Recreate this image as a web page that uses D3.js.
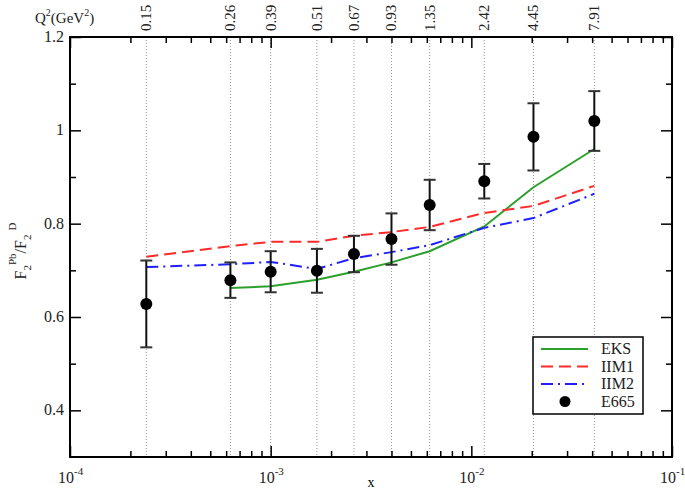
<!DOCTYPE html>
<html>
<head>
<meta charset="utf-8">
<script src="https://cdn.jsdelivr.net/npm/d3@7"></script>
<style>
  body { margin: 0; background: #fff; }
  .axis path, .axis line { stroke: #000; }
  .axis text { display: none; }
</style>
</head>
<body>
<svg width="685" height="492" font-family="'Liberation Serif', 'Times New Roman', Times, serif"></svg>
<script>
// measured x positions, Q^2 labels and F2(Pb)/F2(D) values
var xVals = [0.00024, 0.00063, 0.001, 0.0017, 0.0026, 0.004, 0.0062, 0.0116, 0.0204, 0.041];
var q2Labels = ['0.15', '0.26', '0.39', '0.51', '0.67', '0.93', '1.35', '2.42', '4.45', '7.91'];

var e665 = [0.628, 0.679, 0.697, 0.699, 0.735, 0.767, 0.840, 0.891, 0.986, 1.020];
var e665Err = [0.093, 0.038, 0.044, 0.047, 0.039, 0.055, 0.054, 0.037, 0.072, 0.064];

var eks = [null, 0.662, 0.666, 0.680, 0.697, 0.717, 0.741, 0.794, 0.878, 0.960];
var iim1 = [0.729, 0.752, 0.761, 0.761, 0.774, 0.782, 0.793, 0.823, 0.838, 0.881];
var iim2 = [0.707, 0.713, 0.718, 0.703, 0.726, 0.739, 0.754, 0.791, 0.812, 0.864];

var yTicks = [0.4, 0.6, 0.8, 1, 1.2];
var yMinor = [0.5, 0.7, 0.9, 1.1];
var xDecades = [1e-4, 1e-3, 1e-2, 1e-1];

var svg = d3.select('svg');

var x = d3.scaleLog()
    .domain([1e-4, 1e-1])
    .range([70, 672]);

var y = d3.scaleLinear()
    .domain([0.3, 1.2])
    .range([457, 37]);

var xMinor = [];
xDecades.slice(0, 3).forEach(function(d){
    for (var k = 2; k <= 9; k++) xMinor.push(d * k);
});

// vertical dotted guides
svg.append('g')
    .selectAll('line')
    .data(xVals)
    .enter()
    .append('line')
    .attr('x1', function(d){ return x(d); })
    .attr('x2', function(d){ return x(d); })
    .attr('y1', y(1.2))
    .attr('y2', y(0.3))
    .attr('stroke', '#999')
    .attr('stroke-width', 1)
    .attr('stroke-dasharray', '1,2');

// axes with inward ticks
function addAxis(axis, tx, ty, size) {
    svg.append('g')
        .attr('class', 'axis')
        .attr('transform', 'translate(' + tx + ',' + ty + ')')
        .call(axis.tickSizeInner(size).tickSizeOuter(0).tickFormat(''))
        .call(function(g){ g.select('.domain').remove(); })
        .selectAll('line').attr('stroke-width', 1.5);
}

addAxis(d3.axisBottom(x).tickValues(xDecades), 0, y(0.3), -11);
addAxis(d3.axisBottom(x).tickValues(xMinor), 0, y(0.3), -6);
addAxis(d3.axisTop(x).tickValues(xDecades), 0, y(1.2), -11);
addAxis(d3.axisTop(x).tickValues(xMinor), 0, y(1.2), -6);
addAxis(d3.axisLeft(y).tickValues(yTicks), x(1e-4), 0, -11);
addAxis(d3.axisLeft(y).tickValues(yMinor), x(1e-4), 0, -6);
addAxis(d3.axisRight(y).tickValues(yTicks), x(1e-1), 0, -11);
addAxis(d3.axisRight(y).tickValues(yMinor), x(1e-1), 0, -6);

// frame
svg.append('rect')
    .attr('x', x(1e-4))
    .attr('y', y(1.2))
    .attr('width', x(1e-1) - x(1e-4))
    .attr('height', y(0.3) - y(1.2))
    .attr('fill', 'none')
    .attr('stroke', '#000')
    .attr('stroke-width', 2);

// y tick labels
svg.append('g')
    .selectAll('text')
    .data(yTicks)
    .enter()
    .append('text')
    .attr('x', 64)
    .attr('y', function(d){ return y(d) + 5; })
    .attr('text-anchor', 'end')
    .attr('font-size', 16)
    .attr('fill', '#222')
    .text(function(d){ return d; });

// x tick labels 10^n
var xl = svg.append('g')
    .selectAll('text')
    .data(xDecades)
    .enter()
    .append('text')
    .attr('x', function(d){ return x(d) - 12; })
    .attr('y', 483)
    .attr('font-size', 16)
    .attr('fill', '#222');
xl.append('tspan').text('10');
xl.append('tspan')
    .attr('dy', -8)
    .attr('font-size', 11)
    .text(function(d){ return Math.round(Math.log10(d)); });

svg.append('text')
    .attr('x', 371)
    .attr('y', 487)
    .attr('text-anchor', 'middle')
    .attr('font-size', 14)
    .text('x');

// y label
var yl = svg.append('text')
    .attr('transform', 'translate(26,251)rotate(-90)')
    .attr('text-anchor', 'middle')
    .attr('font-size', 16)
    .attr('fill', '#222');
yl.append('tspan').text('F');
yl.append('tspan').attr('dy', 5).attr('font-size', 11).text('2');
yl.append('tspan').attr('dy', -15).attr('font-size', 11).text('Pb');
yl.append('tspan').attr('dy', 10).text('/F');
yl.append('tspan').attr('dy', 5).attr('font-size', 11).text('2');
yl.append('tspan').attr('dx', 4).attr('dy', -15).attr('font-size', 11).text('D');

// Q^2 labels on top
var ql = svg.append('text')
    .attr('x', 35)
    .attr('y', 23)
    .attr('font-size', 15)
    .attr('fill', '#222');
ql.append('tspan').text('Q');
ql.append('tspan').attr('dy', -7).attr('font-size', 10).text('2');
ql.append('tspan').attr('dy', 7).text('(GeV');
ql.append('tspan').attr('dy', -7).attr('font-size', 10).text('2');
ql.append('tspan').attr('dy', 7).text(')');

svg.append('g')
    .selectAll('text')
    .data(xVals)
    .enter()
    .append('text')
    .attr('transform', function(d){ return 'translate(' + (x(d) + 5) + ',31)rotate(-90)'; })
    .attr('font-size', 15)
    .attr('fill', '#222')
    .text(function(d, i){ return q2Labels[i]; });

// model curves
var line = d3.line()
    .defined(function(d){ return d[1] !== null; })
    .x(function(d){ return x(d[0]); })
    .y(function(d){ return y(d[1]); });

var curves = [
    { name: 'EKS', vals: eks, color: '#2ca02c', dash: null },
    { name: 'IIM1', vals: iim1, color: '#ff2a2a', dash: '12,6' },
    { name: 'IIM2', vals: iim2, color: '#1f1fff', dash: '12,5,2,5' }
];

curves.forEach(function(c){
    svg.append('path')
        .datum(xVals.map(function(d, i){ return [d, c.vals[i]]; }))
        .attr('d', line)
        .attr('fill', 'none')
        .attr('stroke', c.color)
        .attr('stroke-width', 2)
        .attr('stroke-dasharray', c.dash);
});

// E665 points with error bars
var pts = svg.append('g')
    .selectAll('g')
    .data(xVals)
    .enter()
    .append('g');

pts.append('line')
    .attr('x1', function(d){ return x(d); })
    .attr('x2', function(d){ return x(d); })
    .attr('y1', function(d, i){ return y(e665[i] + e665Err[i]); })
    .attr('y2', function(d, i){ return y(e665[i] - e665Err[i]); })
    .attr('stroke', '#111')
    .attr('stroke-width', 2);

[1, -1].forEach(function(s){
    pts.append('line')
        .attr('x1', function(d){ return x(d) - 6; })
        .attr('x2', function(d){ return x(d) + 6; })
        .attr('y1', function(d, i){ return y(e665[i] + s * e665Err[i]); })
        .attr('y2', function(d, i){ return y(e665[i] + s * e665Err[i]); })
        .attr('stroke', '#333')
        .attr('stroke-width', 2);
});

pts.append('circle')
    .attr('cx', function(d){ return x(d); })
    .attr('cy', function(d, i){ return y(e665[i]); })
    .attr('r', 6)
    .attr('fill', '#000');

// legend
var lg = svg.append('g');
lg.append('rect')
    .attr('x', 533)
    .attr('y', 337)
    .attr('width', 110)
    .attr('height', 77)
    .attr('fill', '#fff')
    .attr('stroke', '#000')
    .attr('stroke-width', 1.5);

curves.forEach(function(c, i){
    var ly = 349 + i * 17.5;
    lg.append('line')
        .attr('x1', 541).attr('x2', 588)
        .attr('y1', ly).attr('y2', ly)
        .attr('stroke', c.color)
        .attr('stroke-width', 2)
        .attr('stroke-dasharray', c.dash);
    lg.append('text')
        .attr('x', 601).attr('y', ly + 5)
        .attr('font-size', 16)
        .attr('fill', '#222')
        .text(c.name);
});
lg.append('circle')
    .attr('cx', 565).attr('cy', 401.5)
    .attr('r', 5.5)
    .attr('fill', '#000');
lg.append('text')
    .attr('x', 601).attr('y', 406.5)
    .attr('font-size', 16)
    .attr('fill', '#222')
    .text('E665');
</script>
</body>
</html>
